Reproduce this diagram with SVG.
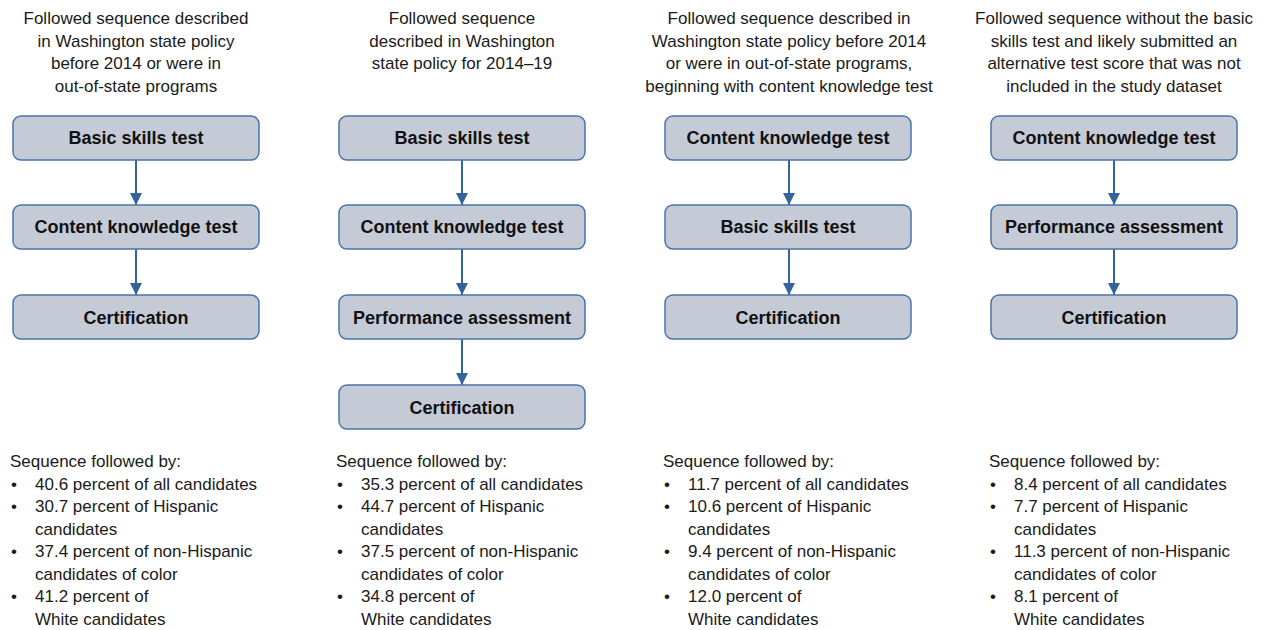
<svg xmlns="http://www.w3.org/2000/svg" width="1264" height="630" viewBox="0 0 1264 630">
  <style>
    text { font-family: "Liberation Sans", Arial, sans-serif; fill: #1a1a1a; }
    .hdr { font-size: 17px; text-anchor: middle; }
    .lbl { font-size: 18px; font-weight: bold; text-anchor: middle; fill: #111; }
    .note { font-size: 17px; }
    .box { fill: #c4cbd7; stroke: #4a74a9; stroke-width: 1.5; }
    .conn { stroke: #34629c; stroke-width: 2; fill: none; marker-end: url(#arrow); }
  </style>
  <defs>
    <marker id="arrow" viewBox="0 0 12 12" refX="12" refY="6" markerWidth="12" markerHeight="12" markerUnits="userSpaceOnUse" orient="auto">
      <path d="M0,0 L12,6 L0,12 z" fill="#34629c"/>
    </marker>
  </defs>
  <rect width="1264" height="630" fill="#ffffff"/>

  <!-- column headings -->
  <g id="heading-1">
    <text class="hdr" x="136" y="24">Followed sequence described</text>
    <text class="hdr" x="136" y="47">in Washington state policy</text>
    <text class="hdr" x="136" y="69">before 2014 or were in</text>
    <text class="hdr" x="136" y="92">out-of-state programs</text>
  </g>
  <g id="heading-2">
    <text class="hdr" x="462" y="24">Followed sequence</text>
    <text class="hdr" x="462" y="47">described in Washington</text>
    <text class="hdr" x="462" y="69">state policy for 2014–19</text>
  </g>
  <g id="heading-3">
    <text class="hdr" x="789" y="24">Followed sequence described in</text>
    <text class="hdr" x="789" y="47">Washington state policy before 2014</text>
    <text class="hdr" x="789" y="69">or were in out-of-state programs,</text>
    <text class="hdr" x="789" y="92">beginning with content knowledge test</text>
  </g>
  <g id="heading-4">
    <text class="hdr" x="1114" y="24">Followed sequence without the basic</text>
    <text class="hdr" x="1114" y="47">skills test and likely submitted an</text>
    <text class="hdr" x="1114" y="69">alternative test score that was not</text>
    <text class="hdr" x="1114" y="92">included in the study dataset</text>
  </g>

  <!-- connectors -->
  <g id="connectors">
    <line class="conn" x1="136" y1="160" x2="136" y2="205"/>
    <line class="conn" x1="136" y1="249" x2="136" y2="295"/>
    <line class="conn" x1="462" y1="160" x2="462" y2="205"/>
    <line class="conn" x1="462" y1="249" x2="462" y2="295"/>
    <line class="conn" x1="462" y1="339" x2="462" y2="385"/>
    <line class="conn" x1="789" y1="160" x2="789" y2="205"/>
    <line class="conn" x1="789" y1="249" x2="789" y2="295"/>
    <line class="conn" x1="1114" y1="160" x2="1114" y2="205"/>
    <line class="conn" x1="1114" y1="249" x2="1114" y2="295"/>
  </g>

  <!-- column 1 -->
  <g id="c1-basic">
    <rect class="box" x="13" y="116" width="246" height="44" rx="8"/>
    <text class="lbl" x="136" y="144">Basic skills test</text>
  </g>
  <g id="c1-content">
    <rect class="box" x="13" y="205" width="246" height="44" rx="8"/>
    <text class="lbl" x="136" y="233">Content knowledge test</text>
  </g>
  <g id="c1-cert">
    <rect class="box" x="13" y="295" width="246" height="44" rx="8"/>
    <text class="lbl" x="136" y="324">Certification</text>
  </g>

  <!-- column 2 -->
  <g id="c2-basic">
    <rect class="box" x="339" y="116" width="246" height="44" rx="8"/>
    <text class="lbl" x="462" y="144">Basic skills test</text>
  </g>
  <g id="c2-content">
    <rect class="box" x="339" y="205" width="246" height="44" rx="8"/>
    <text class="lbl" x="462" y="233">Content knowledge test</text>
  </g>
  <g id="c2-perf">
    <rect class="box" x="339" y="295" width="246" height="44" rx="8"/>
    <text class="lbl" x="462" y="324">Performance assessment</text>
  </g>
  <g id="c2-cert">
    <rect class="box" x="339" y="385" width="246" height="44" rx="8"/>
    <text class="lbl" x="462" y="414">Certification</text>
  </g>

  <!-- column 3 -->
  <g id="c3-content">
    <rect class="box" x="665" y="116" width="246" height="44" rx="8"/>
    <text class="lbl" x="788" y="144">Content knowledge test</text>
  </g>
  <g id="c3-basic">
    <rect class="box" x="665" y="205" width="246" height="44" rx="8"/>
    <text class="lbl" x="788" y="233">Basic skills test</text>
  </g>
  <g id="c3-cert">
    <rect class="box" x="665" y="295" width="246" height="44" rx="8"/>
    <text class="lbl" x="788" y="324">Certification</text>
  </g>

  <!-- column 4 -->
  <g id="c4-content">
    <rect class="box" x="991" y="116" width="246" height="44" rx="8"/>
    <text class="lbl" x="1114" y="144">Content knowledge test</text>
  </g>
  <g id="c4-perf">
    <rect class="box" x="991" y="205" width="246" height="44" rx="8"/>
    <text class="lbl" x="1114" y="233">Performance assessment</text>
  </g>
  <g id="c4-cert">
    <rect class="box" x="991" y="295" width="246" height="44" rx="8"/>
    <text class="lbl" x="1114" y="324">Certification</text>
  </g>

  <!-- share of candidates per sequence -->
  <g id="shares-1">
    <text class="note" x="10" y="467">Sequence followed by:</text>
    <text class="note" x="11" y="490">•</text><text class="note" x="35" y="490">40.6 percent of all candidates</text>
    <text class="note" x="11" y="512">•</text><text class="note" x="35" y="512">30.7 percent of Hispanic</text>
    <text class="note" x="35" y="535">candidates</text>
    <text class="note" x="11" y="557">•</text><text class="note" x="35" y="557">37.4 percent of non-Hispanic</text>
    <text class="note" x="35" y="580">candidates of color</text>
    <text class="note" x="11" y="602">•</text><text class="note" x="35" y="602">41.2 percent of</text>
    <text class="note" x="35" y="625">White candidates</text>
  </g>
  <g id="shares-2">
    <text class="note" x="336" y="467">Sequence followed by:</text>
    <text class="note" x="337" y="490">•</text><text class="note" x="361" y="490">35.3 percent of all candidates</text>
    <text class="note" x="337" y="512">•</text><text class="note" x="361" y="512">44.7 percent of Hispanic</text>
    <text class="note" x="361" y="535">candidates</text>
    <text class="note" x="337" y="557">•</text><text class="note" x="361" y="557">37.5 percent of non-Hispanic</text>
    <text class="note" x="361" y="580">candidates of color</text>
    <text class="note" x="337" y="602">•</text><text class="note" x="361" y="602">34.8 percent of</text>
    <text class="note" x="361" y="625">White candidates</text>
  </g>
  <g id="shares-3">
    <text class="note" x="663" y="467">Sequence followed by:</text>
    <text class="note" x="664" y="490">•</text><text class="note" x="688" y="490">11.7 percent of all candidates</text>
    <text class="note" x="664" y="512">•</text><text class="note" x="688" y="512">10.6 percent of Hispanic</text>
    <text class="note" x="688" y="535">candidates</text>
    <text class="note" x="664" y="557">•</text><text class="note" x="688" y="557">9.4 percent of non-Hispanic</text>
    <text class="note" x="688" y="580">candidates of color</text>
    <text class="note" x="664" y="602">•</text><text class="note" x="688" y="602">12.0 percent of</text>
    <text class="note" x="688" y="625">White candidates</text>
  </g>
  <g id="shares-4">
    <text class="note" x="989" y="467">Sequence followed by:</text>
    <text class="note" x="990" y="490">•</text><text class="note" x="1014" y="490">8.4 percent of all candidates</text>
    <text class="note" x="990" y="512">•</text><text class="note" x="1014" y="512">7.7 percent of Hispanic</text>
    <text class="note" x="1014" y="535">candidates</text>
    <text class="note" x="990" y="557">•</text><text class="note" x="1014" y="557">11.3 percent of non-Hispanic</text>
    <text class="note" x="1014" y="580">candidates of color</text>
    <text class="note" x="990" y="602">•</text><text class="note" x="1014" y="602">8.1 percent of</text>
    <text class="note" x="1014" y="625">White candidates</text>
  </g>
</svg>
